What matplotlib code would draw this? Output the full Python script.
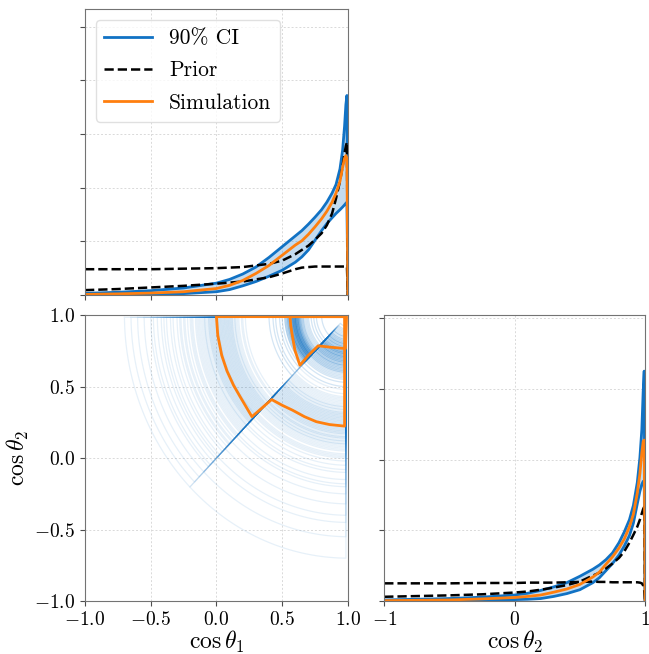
import numpy as np
import matplotlib
matplotlib.use("Agg")
import matplotlib.pyplot as plt

plt.rcParams.update({
    "font.family": "serif",
    "font.serif": ["cmr10"],
    "mathtext.fontset": "cm",
    "axes.formatter.use_mathtext": True,
    "axes.unicode_minus": True,
})

BLUE = "#1172c4"
ORANGE = "#ff7f0e"

# marginal of cos(theta_1)
x1 = [-1.0, -0.75, -0.5, -0.25, 0.0, 0.1, 0.2, 0.3, 0.4, 0.5, 0.6, 0.65, 0.7, 0.75, 0.8, 0.84, 0.88, 0.91, 0.94,
      0.96, 0.975, 0.985, 0.993, 1.0]
ci1_hi = [0.03, 0.05, 0.08, 0.13, 0.22, 0.29, 0.39, 0.52, 0.70, 0.90, 1.10, 1.20, 1.32, 1.45, 1.59, 1.73, 1.90, 2.06,
          2.35, 2.70, 3.15, 3.55, 3.72, 0.0]
ci1_lo = [0.0, 0.005, 0.01, 0.025, 0.06, 0.10, 0.17, 0.25, 0.35, 0.46, 0.61, 0.71, 0.84, 1.02, 1.20, 1.33, 1.44, 1.52,
          1.59, 1.64, 1.68, 1.71, 1.73, 0.0]
sim1 = [0.01, 0.02, 0.035, 0.06, 0.12, 0.18, 0.27, 0.40, 0.55, 0.74, 0.93, 1.01, 1.13, 1.27, 1.42, 1.56, 1.73, 1.90,
        2.12, 2.38, 2.55, 2.60, 2.55, 0.0]
prior1_a = [0.48, 0.48, 0.48, 0.49, 0.50, 0.51, 0.52, 0.55, 0.58, 0.64, 0.76, 0.84, 0.92, 1.03, 1.15, 1.30, 1.52, 1.80,
            2.12, 2.40, 2.65, 2.78, 2.85, 0.0]
prior1_b = [0.09, 0.11, 0.14, 0.17, 0.21, 0.23, 0.25, 0.29, 0.33, 0.40, 0.48, 0.51, 0.52, 0.53, 0.53, 0.53, 0.53, 0.53,
            0.53, 0.53, 0.53, 0.53, 0.53, 0.0]

# marginal of cos(theta_2)
x2 = [-1.0, -0.75, -0.5, -0.25, 0.0, 0.1, 0.2, 0.3, 0.4, 0.5, 0.6, 0.65, 0.7, 0.75, 0.8, 0.84, 0.88, 0.91, 0.94,
      0.96, 0.975, 0.985, 0.993, 1.0]
ci2_hi = [0.03, 0.05, 0.07, 0.11, 0.17, 0.22, 0.30, 0.40, 0.52, 0.70, 0.90, 1.02, 1.17, 1.36, 1.65, 1.95, 2.30, 2.70,
          3.35, 4.05, 4.85, 5.90, 6.50, 0.0]
ci2_lo = [0.0, 0.005, 0.01, 0.02, 0.04, 0.05, 0.07, 0.13, 0.21, 0.32, 0.52, 0.66, 0.86, 1.06, 1.30, 1.55, 1.85, 2.20,
          2.75, 3.10, 3.30, 3.38, 3.40, 0.0]
sim2 = [0.01, 0.02, 0.03, 0.06, 0.10, 0.13, 0.17, 0.25, 0.34, 0.47, 0.68, 0.82, 1.04, 1.25, 1.50, 1.75, 2.10, 2.45,
        3.05, 3.60, 4.20, 4.50, 4.55, 0.0]
prior2_a = [0.50, 0.50, 0.50, 0.51, 0.51, 0.52, 0.52, 0.52, 0.53, 0.54, 0.55, 0.54, 0.54, 0.53, 0.53, 0.53, 0.53, 0.53,
            0.53, 0.52, 0.50, 0.44, 0.30, 0.0]
prior2_b = [0.12, 0.14, 0.16, 0.19, 0.24, 0.27, 0.32, 0.38, 0.45, 0.55, 0.72, 0.80, 0.92, 1.06, 1.22, 1.40, 1.65, 1.87,
            2.10, 2.30, 2.48, 2.60, 2.66, 0.0]

# 2D contours of posterior draws: radii around (1, 1), above / below the diagonal
in_up = [0.42, 0.38, 0.45, 0.40, 0.36, 0.44, 0.41, 0.39, 0.47, 0.35, 0.43, 0.40, 0.37, 0.46, 0.42, 0.33, 0.41, 0.38, 0.44, 0.50,
         0.39, 0.42, 0.30, 0.45, 0.40, 0.36, 0.43, 0.55, 0.41, 0.38, 0.26, 0.44, 0.40, 0.48, 0.37, 0.42, 0.60, 0.39, 0.20, 0.43,
         0.41, 0.37, 0.44, 0.39, 0.46, 0.34, 0.42, 0.40, 0.38, 0.45, 0.32, 0.43, 0.41, 0.36, 0.47, 0.39, 0.28, 0.44, 0.40, 0.42,
         0.35, 0.46, 0.38, 0.52, 0.41, 0.37, 0.43, 0.24, 0.40, 0.45, 0.39, 0.42, 0.34, 0.48, 0.41, 0.57, 0.38, 0.44, 0.31, 0.40]
in_lo = [0.28, 0.22, 0.35, 0.18, 0.30, 0.25, 0.40, 0.15, 0.32, 0.27, 0.20, 0.38, 0.24, 0.33, 0.12, 0.29, 0.36, 0.21, 0.26, 0.43,
         0.31, 0.17, 0.34, 0.23, 0.28, 0.39, 0.10, 0.30, 0.25, 0.37, 0.19, 0.32, 0.27, 0.45, 0.22, 0.35, 0.14, 0.29, 0.41, 0.26,
         0.24, 0.31, 0.16, 0.27, 0.36, 0.20, 0.29, 0.42, 0.13, 0.26, 0.33, 0.18, 0.38, 0.23, 0.30, 0.08, 0.35, 0.21, 0.27, 0.47,
         0.25, 0.32, 0.15, 0.40, 0.28, 0.19, 0.34, 0.22, 0.44, 0.29, 0.11, 0.37, 0.24, 0.31, 0.17, 0.39, 0.26, 0.50, 0.20, 0.33]
out_up = [1.00, 0.92, 1.10, 0.85, 1.25, 0.98, 1.05, 0.90, 1.35, 0.95, 1.15, 0.88, 1.02, 1.45, 0.93, 1.08, 0.80, 1.20, 0.97, 1.60,
          1.04, 0.91, 1.30, 0.99, 0.87, 1.12, 1.70, 0.94, 1.06, 0.83, 1.18, 1.01, 0.96, 1.40, 0.89, 1.09, 0.78, 1.22, 1.03, 1.50,
          0.97, 1.07, 0.89, 1.16, 1.01, 0.93, 1.28, 0.86, 1.04, 0.99, 1.38, 0.91, 1.11, 0.95, 1.55, 1.02, 0.84, 1.19, 0.98, 1.06,
          1.33, 0.90, 1.14, 1.00, 0.81, 1.24, 0.96, 1.65, 1.03, 0.88, 1.09, 1.42, 0.94, 1.13, 0.99, 0.86, 1.27, 1.05, 0.92, 1.48]
out_lo = [0.80, 0.70, 0.90, 0.65, 0.85, 0.75, 1.00, 0.60, 0.82, 0.72, 0.95, 0.68, 0.78, 1.10, 0.62, 0.88, 0.74, 0.55, 0.83, 1.25,
          0.77, 0.66, 0.92, 0.71, 0.86, 1.40, 0.64, 0.79, 0.98, 0.69, 0.58, 0.84, 1.05, 0.73, 0.81, 1.70, 0.67, 0.90, 0.76, 1.15,
          0.78, 0.88, 0.63, 0.72, 0.94, 0.80, 0.57, 0.85, 1.02, 0.69, 0.76, 1.20, 0.66, 0.83, 0.91, 0.74, 1.32, 0.61, 0.87, 0.79,
          0.97, 0.70, 0.52, 0.82, 1.08, 0.75, 0.64, 0.89, 1.55, 0.77, 0.68, 0.93, 0.81, 1.18, 0.71, 0.86, 0.59, 0.99, 0.73, 1.45]

# simulation contours
sim90_x = [0.00, 0.01, 0.04, 0.08, 0.13, 0.18, 0.27, 0.42, 0.50, 0.58, 0.67, 0.76, 0.86, 0.975, 0.975, 0.00]
sim90_y = [0.99, 0.86, 0.72, 0.61, 0.51, 0.43, 0.29, 0.41, 0.37, 0.335, 0.29, 0.255, 0.235, 0.224, 0.99, 0.99]
sim50_x = [0.56, 0.565, 0.575, 0.597, 0.635, 0.70, 0.774, 0.88, 0.982, 0.99, 0.56]
sim50_y = [0.99, 0.93, 0.87, 0.755, 0.65, 0.72, 0.786, 0.775, 0.767, 0.99, 0.99]


def contour_path(r_up, r_lo, edge=0.985):
    p_up = np.linspace(np.pi, 1.25 * np.pi, 40)
    p_lo = np.linspace(1.25 * np.pi, 1.5 * np.pi, 40)
    xs = np.concatenate([1 + r_up * np.cos(p_up), 1 + r_lo * np.cos(p_lo)])
    ys = np.concatenate([1 + r_up * np.sin(p_up), 1 + r_lo * np.sin(p_lo)])
    xs = np.clip(xs, -1, edge)
    ys = np.clip(ys, -1, edge)
    xs = np.append(xs, [edge, xs[0]])
    ys = np.append(ys, [edge, ys[0]])
    return xs, ys


fig = plt.figure(figsize=(6.49, 6.54), dpi=100)
ax_t = fig.add_axes([0.131, 0.549, 0.405, 0.437])
ax_c = fig.add_axes([0.131, 0.081, 0.405, 0.437])
ax_r = fig.add_axes([0.592, 0.081, 0.402, 0.437])

for ax in (ax_t, ax_c, ax_r):
    ax.grid(True, color="0.85", linestyle=(0, (2, 2)), linewidth=0.7)
    ax.set_axisbelow(True)
    for s in ax.spines.values():
        s.set_color("0.45")
    ax.tick_params(labelsize=14, color="0.3", length=3.5)

# top: cos theta_1
ax_t.fill_between(x1, ci1_lo, ci1_hi, color=BLUE, alpha=0.25, linewidth=0)
l_ci, = ax_t.plot(x1, ci1_hi, color=BLUE, lw=2)
ax_t.plot(x1, ci1_lo, color=BLUE, lw=2)
l_pr, = ax_t.plot(x1, prior1_a, color="k", ls="--", lw=1.8)
ax_t.plot(x1, prior1_b, color="k", ls="--", lw=1.8)
l_sim, = ax_t.plot(x1, sim1, color=ORANGE, lw=2)
ax_t.set_xlim(-1, 1)
ax_t.set_ylim(0, 5.33)
ax_t.set_xticks([-1, -0.5, 0, 0.5, 1])
ax_t.set_yticks([0, 1, 2, 3, 4, 5])
ax_t.tick_params(labelbottom=False, labelleft=False)
ax_t.legend([l_ci, l_pr, l_sim], ["90% CI", "Prior", "Simulation"], loc="upper left",
            fontsize=15.5, labelspacing=0.6, handlelength=2.2, framealpha=0.8, edgecolor="0.85")

# center: 2D
for a, b in zip(out_up, out_lo):
    xs, ys = contour_path(a, b)
    ax_c.plot(xs, ys, color=BLUE, lw=0.9, alpha=0.1)
for a, b in zip(in_up, in_lo):
    xs, ys = contour_path(a, b)
    ax_c.plot(xs, ys, color=BLUE, lw=0.9, alpha=0.18)
ax_c.plot(sim90_x, sim90_y, color=ORANGE, lw=2)
ax_c.plot(sim50_x, sim50_y, color=ORANGE, lw=2)
ax_c.set_xlim(-1, 1)
ax_c.set_ylim(-1, 1)
ax_c.set_xticks([-1, -0.5, 0, 0.5, 1])
ax_c.set_yticks([-1, -0.5, 0, 0.5, 1])
ax_c.set_xlabel(r"$\cos\theta_1$", fontsize=17, labelpad=0)
ax_c.set_ylabel(r"$\cos\theta_2$", fontsize=17, labelpad=2)

# right: cos theta_2
ax_r.fill_between(x2, ci2_lo, ci2_hi, color=BLUE, alpha=0.25, linewidth=0)
ax_r.plot(x2, ci2_hi, color=BLUE, lw=2)
ax_r.plot(x2, ci2_lo, color=BLUE, lw=2)
ax_r.plot(x2, prior2_a, color="k", ls="--", lw=1.8)
ax_r.plot(x2, prior2_b, color="k", ls="--", lw=1.8)
ax_r.plot(x2, sim2, color=ORANGE, lw=2)
ax_r.set_xlim(-1, 1)
ax_r.set_ylim(0, 8.08)
ax_r.set_xticks([-1, 0, 1])
ax_r.set_yticks([0, 2, 4, 6, 8])
ax_r.tick_params(labelleft=False)
ax_r.set_xlabel(r"$\cos\theta_2$", fontsize=17, labelpad=0)

fig.savefig("out.png", dpi=100)
